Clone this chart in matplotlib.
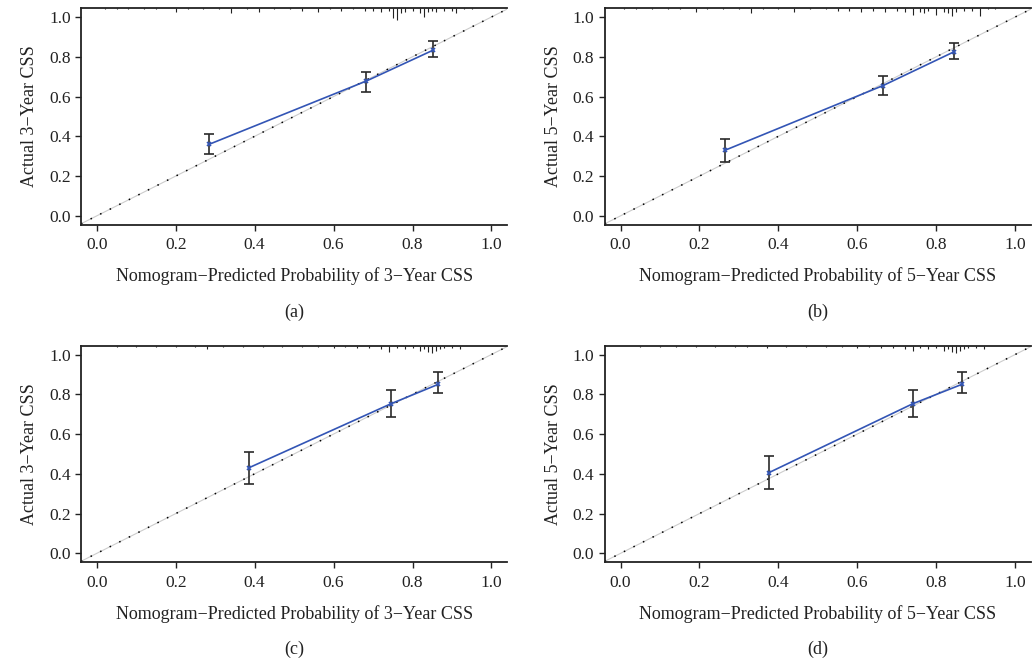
import numpy as np
import matplotlib.pyplot as plt

plt.rcParams['font.family'] = ['Liberation Serif', 'DejaVu Serif']

# calibration points per panel: predicted, observed, lower, upper
pred_a = [0.285, 0.683, 0.853]
obs_a = [0.36, 0.678, 0.834]
lo_a = [0.31, 0.625, 0.80]
hi_a = [0.41, 0.725, 0.878]

pred_b = [0.265, 0.665, 0.845]
obs_b = [0.33, 0.655, 0.825]
lo_b = [0.272, 0.61, 0.79]
hi_b = [0.385, 0.705, 0.87]

pred_c = [0.385, 0.745, 0.865]
obs_c = [0.43, 0.752, 0.85]
lo_c = [0.35, 0.687, 0.805]
hi_c = [0.51, 0.822, 0.912]

pred_d = [0.375, 0.74, 0.865]
obs_d = [0.405, 0.752, 0.85]
lo_d = [0.325, 0.687, 0.805]
hi_d = [0.49, 0.822, 0.912]

# rug of predicted values along the top (position, relative height)
rug_a_x = [0.02, 0.05, 0.08, 0.12, 0.15, 0.2, 0.23, 0.27, 0.31, 0.34, 0.38, 0.41,
           0.45, 0.49, 0.52, 0.56, 0.59, 0.62, 0.65, 0.68, 0.7, 0.72, 0.74, 0.75,
           0.76, 0.77, 0.78, 0.8, 0.82, 0.83, 0.84, 0.85, 0.86, 0.88, 0.9, 0.91, 0.93, 0.95]
rug_a_h = [1, 1, 1, 1, 1, 3, 1, 1, 1, 4, 1, 3, 1, 1, 2, 3, 1, 2, 1, 2, 2, 3, 2, 8,
           9, 4, 3, 2, 4, 7, 3, 2, 3, 2, 2, 4, 1, 1]
rug_b_x = [0.01, 0.04, 0.08, 0.12, 0.15, 0.19, 0.22, 0.26, 0.3, 0.33, 0.36, 0.4,
           0.44, 0.48, 0.52, 0.55, 0.58, 0.61, 0.64, 0.67, 0.7, 0.72, 0.74, 0.76,
           0.77, 0.78, 0.8, 0.82, 0.83, 0.84, 0.85, 0.87, 0.89, 0.91, 0.93, 0.95]
rug_b_h = [1, 1, 1, 1, 1, 3, 1, 1, 1, 4, 1, 1, 3, 1, 1, 2, 2, 3, 2, 3, 2, 3, 5, 3,
           4, 2, 5, 3, 4, 6, 3, 2, 2, 6, 1, 1]
rug_c_x = [0.05, 0.1, 0.15, 0.2, 0.25, 0.28, 0.32, 0.37, 0.42, 0.47, 0.52, 0.56,
           0.6, 0.63, 0.66, 0.69, 0.72, 0.74, 0.76, 0.78, 0.8, 0.82, 0.83, 0.84,
           0.85, 0.86, 0.87, 0.88, 0.9, 0.92]
rug_c_h = [1, 1, 1, 1, 1, 3, 1, 1, 1, 1, 1, 1, 2, 1, 2, 2, 3, 5, 2, 3, 2, 4, 3, 5,
           6, 4, 3, 2, 2, 3]
rug_d_x = [0.05, 0.1, 0.14, 0.19, 0.24, 0.29, 0.32, 0.37, 0.42, 0.47, 0.52, 0.56,
           0.6, 0.63, 0.66, 0.69, 0.72, 0.74, 0.76, 0.78, 0.8, 0.82, 0.83, 0.84,
           0.85, 0.86, 0.87, 0.88, 0.9, 0.92]
rug_d_h = [1, 1, 1, 1, 1, 1, 1, 2, 1, 1, 1, 1, 2, 1, 2, 2, 3, 4, 2, 3, 2, 4, 3, 5,
           6, 4, 3, 2, 2, 3]

panels = [
    ("(a)", "3", pred_a, obs_a, lo_a, hi_a, rug_a_x, rug_a_h),
    ("(b)", "5", pred_b, obs_b, lo_b, hi_b, rug_b_x, rug_b_h),
    ("(c)", "3", pred_c, obs_c, lo_c, hi_c, rug_c_x, rug_c_h),
    ("(d)", "5", pred_d, obs_d, lo_d, hi_d, rug_d_x, rug_d_h),
]

# axes boxes in figure fraction [left, bottom, width, height]
boxes = [
    [0.0785, 0.665, 0.413, 0.323],
    [0.586, 0.665, 0.413, 0.323],
    [0.0785, 0.162, 0.413, 0.323],
    [0.586, 0.162, 0.413, 0.323],
]

blue = '#3355b5'
fig = plt.figure(figsize=(10.32, 6.71), dpi=100)

for (tag, yr, px, ob, lo, hi, rx, rh), box in zip(panels, boxes):
    ax = fig.add_axes(box)
    ax.set_xlim(-0.04, 1.04)
    ax.set_ylim(-0.045, 1.045)

    # ideal line: grey under black dots
    ax.plot([-0.04, 1.04], [-0.04, 1.04], color='#cccccc', lw=0.8, zorder=1)
    ax.plot([-0.04, 1.04], [-0.04, 1.04], color='black', lw=1.1,
            linestyle=(0, (1, 6)), zorder=2)

    ax.plot(px, ob, color=blue, lw=1.2, zorder=3)
    ax.errorbar(px, ob, yerr=[np.array(ob) - np.array(lo), np.array(hi) - np.array(ob)],
                fmt='none', ecolor='#2a2a2a', elinewidth=1.2, capsize=3.5,
                capthick=1.2, zorder=4)
    ax.plot(px, ob, 'x', color=blue, ms=3, mew=1.2, zorder=5)

    # rug at top
    top = 1.045
    ax.vlines(rx, top - np.array(rh) * 0.0065, top, color='#222222', lw=0.8, zorder=3)

    ax.spines['right'].set_visible(False)
    for s in ['left', 'bottom', 'top']:
        ax.spines[s].set_linewidth(1.3)
        ax.spines[s].set_color('#222222')

    ax.set_xticks(np.arange(0, 1.01, 0.2))
    ax.set_yticks(np.arange(0, 1.01, 0.2))
    ax.set_xticklabels([f"{v:.1f}" for v in np.arange(0, 1.01, 0.2)])
    ax.set_yticklabels([f"{v:.1f}" for v in np.arange(0, 1.01, 0.2)])
    ax.tick_params(direction='out', length=4, width=1, labelsize=12.5, colors='#222222')
    ax.tick_params(axis='x', pad=5)
    ax.set_xlabel(f"Nomogram\u2212Predicted Probability of {yr}\u2212Year CSS",
                  fontsize=13, labelpad=10, color='#222222')
    ax.set_ylabel(f"Actual {yr}\u2212Year CSS", fontsize=13, labelpad=8, color='#222222')

    cx = box[0] + box[2] / 2
    fig.text(cx, box[1] - 0.130, tag, ha='center', va='center', fontsize=13, color='#222222')

fig.savefig("out.png", dpi=100)
